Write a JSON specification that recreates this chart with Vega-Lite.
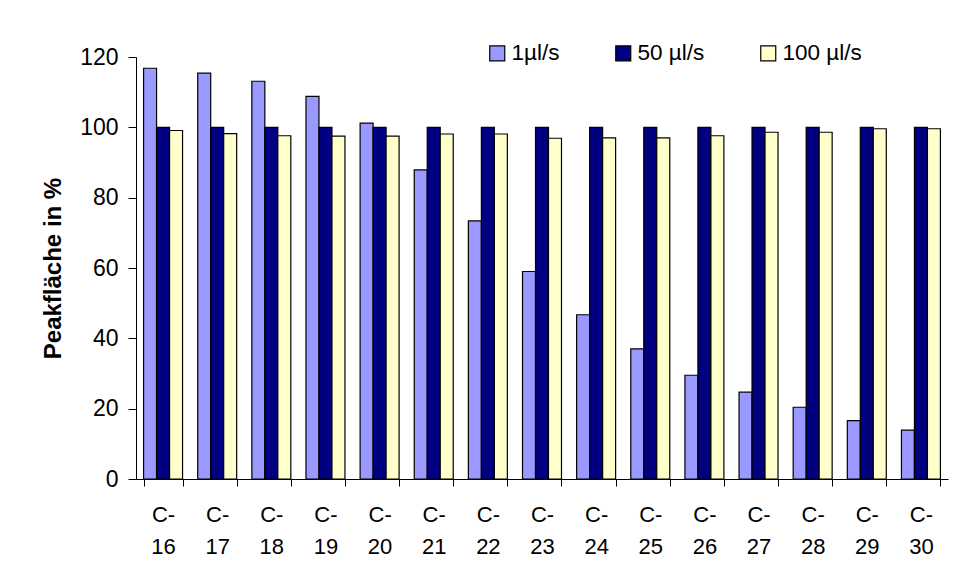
{
  "$schema": "https://vega.github.io/schema/vega-lite/v6.json",
  "autosize": "none",
  "padding": {"left": 136, "top": 57, "right": 5, "bottom": 104},
  "width": 812,
  "height": 422,
  "background": "white",
  "config": {
    "font": "Liberation Sans",
    "view": {"stroke": null},
    "axis": {"labelColor": "black", "titleColor": "black", "domainColor": "black", "tickColor": "black", "labelFont": "Liberation Sans", "titleFont": "Liberation Sans"},
    "legend": {"labelFont": "Liberation Sans"}
  },
  "data": {
    "values": [
      {"k": "C-16", "s": "1µl/s", "v": 116.8}, {"k": "C-16", "s": "50 µl/s", "v": 100}, {"k": "C-16", "s": "100 µl/s", "v": 99.1},
      {"k": "C-17", "s": "1µl/s", "v": 115.4}, {"k": "C-17", "s": "50 µl/s", "v": 100}, {"k": "C-17", "s": "100 µl/s", "v": 98.2},
      {"k": "C-18", "s": "1µl/s", "v": 113.1}, {"k": "C-18", "s": "50 µl/s", "v": 100}, {"k": "C-18", "s": "100 µl/s", "v": 97.6},
      {"k": "C-19", "s": "1µl/s", "v": 108.8}, {"k": "C-19", "s": "50 µl/s", "v": 100}, {"k": "C-19", "s": "100 µl/s", "v": 97.5},
      {"k": "C-20", "s": "1µl/s", "v": 101.2}, {"k": "C-20", "s": "50 µl/s", "v": 100}, {"k": "C-20", "s": "100 µl/s", "v": 97.5},
      {"k": "C-21", "s": "1µl/s", "v": 87.9}, {"k": "C-21", "s": "50 µl/s", "v": 100}, {"k": "C-21", "s": "100 µl/s", "v": 98.1},
      {"k": "C-22", "s": "1µl/s", "v": 73.4}, {"k": "C-22", "s": "50 µl/s", "v": 100}, {"k": "C-22", "s": "100 µl/s", "v": 98.1},
      {"k": "C-23", "s": "1µl/s", "v": 59.0}, {"k": "C-23", "s": "50 µl/s", "v": 100}, {"k": "C-23", "s": "100 µl/s", "v": 96.9},
      {"k": "C-24", "s": "1µl/s", "v": 46.7}, {"k": "C-24", "s": "50 µl/s", "v": 100}, {"k": "C-24", "s": "100 µl/s", "v": 97.0},
      {"k": "C-25", "s": "1µl/s", "v": 37.0}, {"k": "C-25", "s": "50 µl/s", "v": 100}, {"k": "C-25", "s": "100 µl/s", "v": 97.0},
      {"k": "C-26", "s": "1µl/s", "v": 29.5}, {"k": "C-26", "s": "50 µl/s", "v": 100}, {"k": "C-26", "s": "100 µl/s", "v": 97.6},
      {"k": "C-27", "s": "1µl/s", "v": 24.7}, {"k": "C-27", "s": "50 µl/s", "v": 100}, {"k": "C-27", "s": "100 µl/s", "v": 98.6},
      {"k": "C-28", "s": "1µl/s", "v": 20.4}, {"k": "C-28", "s": "50 µl/s", "v": 100}, {"k": "C-28", "s": "100 µl/s", "v": 98.6},
      {"k": "C-29", "s": "1µl/s", "v": 16.6}, {"k": "C-29", "s": "50 µl/s", "v": 100}, {"k": "C-29", "s": "100 µl/s", "v": 99.6},
      {"k": "C-30", "s": "1µl/s", "v": 13.9}, {"k": "C-30", "s": "50 µl/s", "v": 100}, {"k": "C-30", "s": "100 µl/s", "v": 99.6}
    ]
  },
  "mark": {"type": "bar", "stroke": "black", "strokeWidth": 1.2},
  "encoding": {
    "x": {
      "field": "k", "type": "nominal", "sort": null,
      "scale": {"paddingInner": 0.28, "paddingOuter": 0.14},
      "axis": {
        "title": null, "labelAngle": 0, "labelFontSize": 22, "labelLineHeight": 32,
        "labelExpr": "isValid(datum.value) && indexof(datum.value, '-') >= 0 ? ['C-', split(datum.value, '-')[1]] : ''",
        "labelBaseline": "top",
        "tickBand": "extent", "tickSize": 7, "labelPadding": 18, "domainWidth": 1
      }
    },
    "xOffset": {"field": "s", "type": "nominal", "sort": ["1µl/s", "50 µl/s", "100 µl/s"], "scale": {"paddingInner": 0, "paddingOuter": 0}},
    "y": {
      "field": "v", "type": "quantitative",
      "scale": {"domain": [0, 120], "nice": false},
      "axis": {
        "title": "Peakfläche in %", "titleFontSize": 24, "titleFontWeight": "bold", "titlePadding": 14,
        "values": [0, 20, 40, 60, 80, 100, 120], "grid": false,
        "labelFontSize": 23, "tickSize": 8, "labelPadding": 10
      }
    },
    "color": {
      "field": "s", "type": "nominal",
      "sort": ["1µl/s", "50 µl/s", "100 µl/s"],
      "scale": {"domain": ["1µl/s", "50 µl/s", "100 µl/s"], "range": ["#9999FF", "#000080", "#FFFFCC"]},
      "legend": {
        "title": null, "orient": "none", "direction": "horizontal", "columns": 3,
        "legendX": 350, "legendY": -15,
        "symbolType": "square", "symbolSize": 225, "symbolStrokeColor": "black", "symbolStrokeWidth": 1.2,
        "labelFontSize": 22.5, "labelColor": "black", "columnPadding": 52, "labelOffset": 3
      }
    }
  }
}
